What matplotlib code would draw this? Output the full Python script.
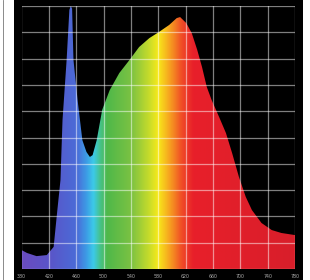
import numpy as np
import matplotlib
matplotlib.use('Agg')
from matplotlib import pyplot as plt
from matplotlib.colors import LinearSegmentedColormap, Normalize
from matplotlib.patches import Polygon, Rectangle

# spectrum (wavelength nm, relative intensity %)
wavelength = [380, 388, 402, 417, 427, 432, 437, 440, 446, 450, 452, 454, 456, 462, 469,
              475, 480, 484, 490, 498, 509, 523, 538, 552, 567, 581, 596, 607, 612, 621,
              629, 637, 644, 651, 658, 669, 679, 688, 698, 708, 717, 731, 746, 760, 780]
intensity = [7.2, 6.1, 4.9, 5.3, 8.4, 21.3, 33.8, 56.7, 79.5, 98.5, 100, 99, 79.5, 64.3, 49,
             44.5, 42.6, 43.3, 49, 60.5, 68, 74.5, 79.5, 84.4, 87.8, 90.1, 92.8, 95.4, 95.8, 93.5,
             89.7, 83.3, 76.8, 69.2, 64.3, 57.8, 51.7, 44.1, 35, 27.4, 22.4, 17.5, 14.8, 13.7, 12.9]

x_ticks = [380, 420, 460, 500, 540, 580, 620, 660, 700, 740, 780]
y_ticks = [0, 10, 20, 30, 40, 50, 60, 70, 80, 90, 100]

# colour of the light at each wavelength
color_stops = [(380, '#6a4cc0'), (420, '#5a55c8'), (460, '#4a6cd8'), (474, '#3c9ee6'),
               (484, '#3ccae8'), (494, '#46c28a'), (504, '#4fb84a'), (540, '#7cc242'),
               (566, '#c8dc2a'), (579, '#f8ea1a'), (596, '#f6a020'), (614, '#f04a26'),
               (630, '#e8202a'), (780, '#d81e2a')]

W, H = 310, 280
fig = plt.figure(figsize=(W/100, H/100), dpi=100)
fig.patch.set_facecolor('white')

# black panel behind the chart
fig.add_artist(Rectangle((14/W, 0), (303-14)/W, 1, transform=fig.transFigure,
                         facecolor='black', edgecolor='none', zorder=0))
fig.add_artist(plt.Line2D([3/W, 3/W], [0, 1], transform=fig.transFigure, color='#777777', lw=0.6))

ax = fig.add_axes([21.5/W, (H-269)/H, (295-21.5)/W, (269-6)/H])
ax.set_facecolor('black')
ax.set_xlim(380, 780)
ax.set_ylim(0, 100)

lo, hi = color_stops[0][0], color_stops[-1][0]
cmap = LinearSegmentedColormap.from_list('spec', [((w-lo)/(hi-lo), c) for w, c in color_stops])
grad = np.linspace(lo, hi, 800)[np.newaxis, :]
im = ax.imshow(grad, extent=[380, 780, 0, 100], aspect='auto', cmap=cmap,
               norm=Normalize(lo, hi), zorder=1, interpolation='bilinear')

pts = [(380, 0)] + list(zip(wavelength, intensity)) + [(780, 0)]
shape = Polygon(pts, closed=True, facecolor='none', edgecolor='none')
ax.add_patch(shape)
im.set_clip_path(shape)

# grid drawn on top of the spectrum
for v in x_ticks:
    ax.axvline(v, color='white', alpha=0.5, lw=0.9, zorder=3)
for v in y_ticks:
    ax.axhline(v, color='white', alpha=0.5, lw=0.9, zorder=3)

ax.set_xticks(x_ticks)
ax.set_xticklabels([str(t) for t in x_ticks], fontsize=3.4, color='#aaaaaa')
ax.tick_params(axis='x', length=0, pad=3.5)
ax.set_yticks([])
for s in ax.spines.values():
    s.set_visible(False)

fig.savefig('out.png', dpi=100, facecolor='white')
